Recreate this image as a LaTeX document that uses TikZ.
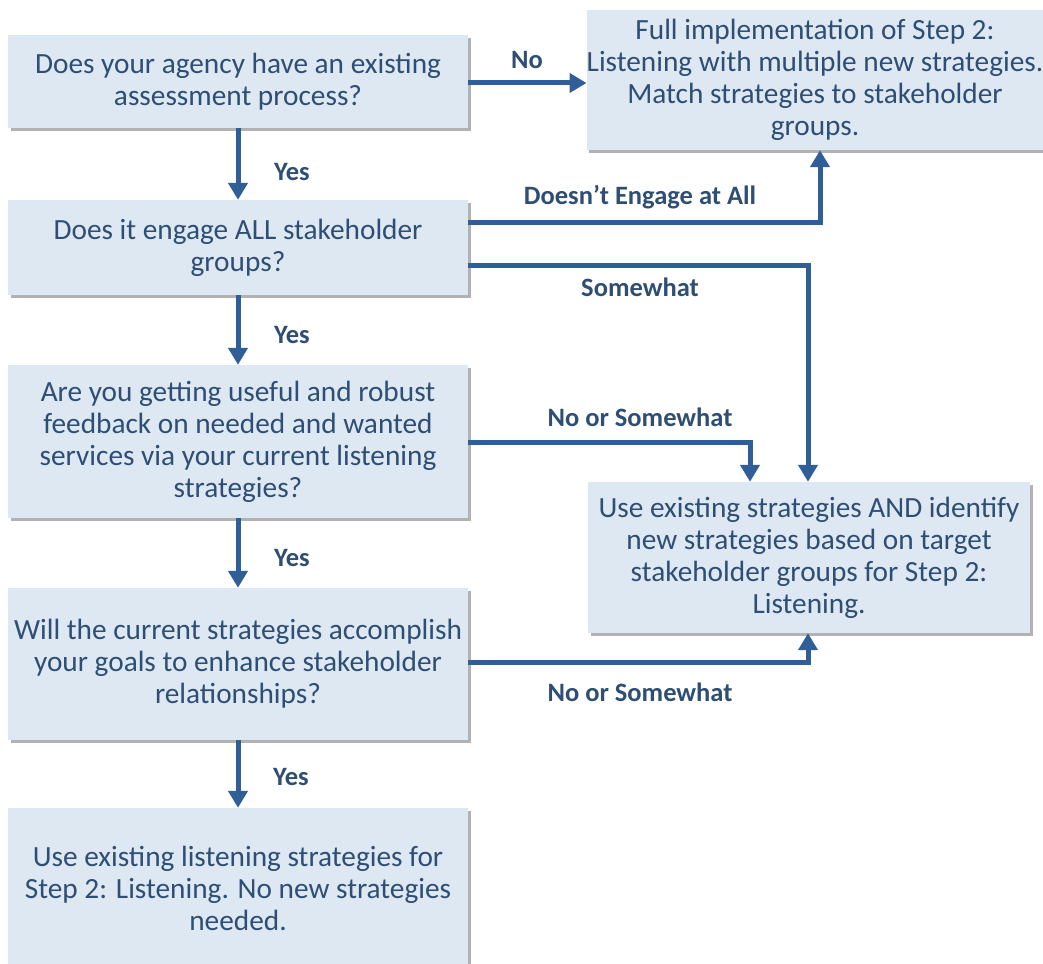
\documentclass[tikz,border=0pt]{standalone}
\usepackage{fontspec}
\setmainfont{Carlito}
\usetikzlibrary{arrows.meta,shadows}
\definecolor{boxfill}{HTML}{DEE8F3}
\definecolor{txt}{HTML}{2E4E74}
\definecolor{arr}{HTML}{2F5F96}
\tikzset{
  box/.style={rectangle, fill=boxfill, draw=none, align=center, text=txt,
    font=\fontsize{29.3}{32}\selectfont, inner sep=0pt,
    drop shadow={shadow xshift=2.5pt, shadow yshift=-3pt, opacity=0.55, fill=black!55}},
  conn/.style={draw=arr, line width=5pt, -{Triangle[length=17pt,width=19pt]}},
  lbl/.style={text=txt, font=\fontsize{26.5}{30}\selectfont\bfseries, inner sep=0pt},
}
\begin{document}
\begin{tikzpicture}[x=1pt,y=-1pt]
\useasboundingbox (0,0) rectangle (1043,963);
\node[box, minimum width=460pt, minimum height=93pt] (q1) at (238,81.5)
  {Does your agency have an existing\\assessment process?};
\node[box, minimum width=460pt, minimum height=95pt] (q2) at (238,247.5)
  {Does it engage ALL stakeholder\\groups?};
\node[box, minimum width=460pt, minimum height=153pt] (q3) at (238,441.5)
  {Are you getting useful and robust\\feedback on needed and wanted\\services via your current listening\\strategies?};
\node[box, minimum width=460pt, minimum height=152pt] (q4) at (238,664)
  {Will the current strategies accomplish\\your goals to enhance stakeholder\\relationships?};
\node[box, minimum width=460pt, minimum height=160pt] (q5) at (238,888)
  {Use existing listening strategies for\\Step 2: Listening. No new strategies\\needed.};
\node[box, minimum width=456pt, minimum height=140pt] (ra) at (815,80)
  {Full implementation of Step 2:\\Listening with multiple new strategies.\\Match strategies to stakeholder\\groups.};
\node[box, minimum width=442pt, minimum height=151pt] (rb) at (809,557.5)
  {Use existing strategies AND identify\\new strategies based on target\\stakeholder groups for Step 2:\\Listening.};

\draw[conn] (q1.east |- 0,83) -- (ra.west |- 0,83);
\draw[conn] (q1.south) -- (q2.north);
\draw[conn] (q2.south) -- (q3.north);
\draw[conn] (q3.south) -- (q4.north);
\draw[conn] (q4.south) -- (q5.north);
\draw[conn] (q2.east |- 0,222) -| (ra.south -| 820,0);
\draw[conn] (q2.east |- 0,265) -| (rb.north -| 808,0);
\draw[conn] (q3.east |- 0,442) -| (rb.north -| 750,0);
\draw[conn] (q4.east |- 0,662) -| (rb.south -| 808,0);

\node[lbl] (l1) at (527,60) {No};
\node[lbl] (l2) at (292,172) {Yes};
\node[lbl] (l3) at (292,335) {Yes};
\node[lbl] (l4) at (292,558) {Yes};
\node[lbl] (l5) at (291,777) {Yes};
\node[lbl] (l6) at (640,197) {Doesn’t Engage at All};
\node[lbl] (l7) at (640,287) {Somewhat};
\node[lbl] (l8) at (640,417) {No or Somewhat};
\node[lbl] (l9) at (640,692) {No or Somewhat};
\end{tikzpicture}
\end{document}
